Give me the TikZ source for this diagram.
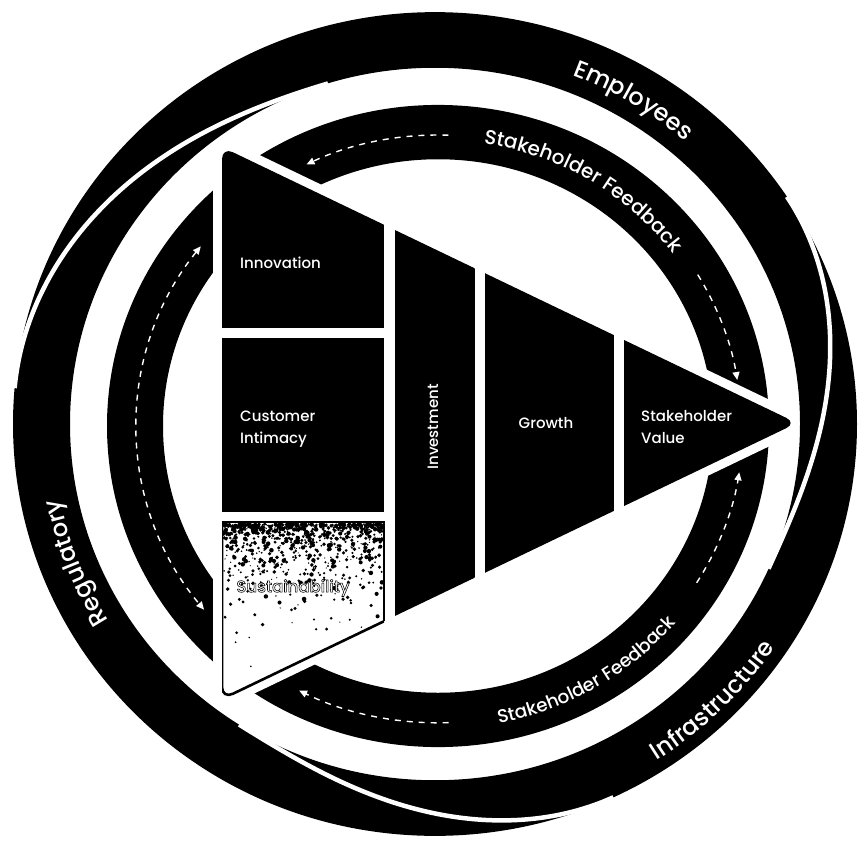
\documentclass[tikz,border=0pt]{standalone}
\usepackage{fontspec}
\setmainfont{Poppins}[UprightFont=* Medium]
\usetikzlibrary{arrows.meta,decorations.text}

\tikzset{
  boxlabel/.style={text=white, inner sep=0pt, align=left, font=\fontsize{15}{22}\selectfont},
  fbarrow/.style={white, line width=1.4pt, dash pattern=on 6pt off 6pt, -{Triangle[length=8pt,width=7pt]}},
  halo/.style={white, line width=18pt, line join=round, rounded corners=12pt},
  bandtext/.style={decorate, decoration={text along path, text align=center, text color=white, text={#1}}},
}

\begin{document}
\begin{tikzpicture}[x=1pt,y=1pt]
\useasboundingbox (0,0) rectangle (863,-841);

% outer swooshes: Employees, Infrastructure, Regulatory
\begin{scope}[shift={(435,-424)},yscale=0.976]
  \fill[even odd rule] (0,0) circle (422) (0,0) circle (365);
  \foreach \hs/\te in {175/107, 33.5/-24, -65/-122.5}
    \draw[white,line width=4.5pt] plot[domain=0:1,samples=80,smooth]
      ({\hs+(\te-(\hs))*\x}:{422-57*(3*\x*\x-2*\x*\x*\x)});
  \path[bandtext={|\fontsize{24}{24}\selectfont|Employees}] (80:383) arc (80:38:383);
  \path[bandtext={|\fontsize{24}{24}\selectfont|Regulatory}] (225:383) arc (225:178:383);
  \path[bandtext={|\fontsize{24}{24}\selectfont|Infrastructure}] (-70:410) arc (-70:-21:410);
\end{scope}

% inner ring with feedback arrows
\begin{scope}[shift={(438,-426)},yscale=0.97]
  \fill[even odd rule] (0,0) circle (331) (0,0) circle (275);
  \path[bandtext={|\fontsize{20}{20}\selectfont|Stakeholder Feedback}] (85:295) arc (85:33:295);
  \path[bandtext={|\fontsize{18.5}{18.5}\selectfont|Stakeholder Feedback}] (-88:313) arc (-88:-31:313);
  \draw[fbarrow] (88:300) arc (88:116:300);
  \draw[fbarrow] (31:303) arc (31:9:303);
  \draw[fbarrow] (-32:305) arc (-32:-9:305);
  \draw[fbarrow] (-88:306) arc (-88:-117:306);
  \draw[fbarrow,{Triangle[length=8pt,width=7pt]}-{Triangle[length=8pt,width=7pt]}] (142:301) arc (142:219:301);
\end{scope}

% triangle
\coordinate (tl) at (222,-147);
\coordinate (tip) at (797,-423);
\coordinate (bl) at (222,-699);
\draw[halo, fill=white] (tl) -- (tip) -- (bl) -- cycle;
\begin{scope}
  \clip[rounded corners=12pt] (tl) -- (tip) -- (bl) -- cycle;
  \fill (222,-140) rectangle (384,-328);
  \fill (222,-338) rectangle (384,-512);
  \fill (395,-140) rectangle (475,-710);
  \fill (485,-140) rectangle (614,-710);
  \fill (624,-140) rectangle (810,-710);
  % sustainability box, grainy
  \fill[white] (222,-522) rectangle (384,-710);
  \pgfmathsetseed{11}
  \foreach \i in {1,...,900}{
    \pgfmathsetmacro{\sx}{223+160*rnd}
    \pgfmathsetmacro{\sy}{524+170*rnd*rnd*rnd}
    \fill (\sx,-\sy) circle ({0.6+1.7*rnd});
  }
  \draw[line width=1.4pt] (222,-522) rectangle (384,-710);
\end{scope}
\begin{scope}
  \clip (222,-522) rectangle (384,-710);
  \draw[line width=2.6pt, rounded corners=12pt] (tl) -- (tip) -- (bl) -- cycle;
\end{scope}

\node[boxlabel, anchor=west] (innov) at (240,-263) {Innovation};
\node[boxlabel, anchor=west] (cust) at (240,-429) {Customer\\Intimacy};
\node[boxlabel, rotate=90] (invest) at (433,-427) {Investment};
\node[boxlabel] (growth) at (546,-423) {Growth};
\node[boxlabel, anchor=west] (value) at (641,-427) {Stakeholder\\Value};
\node[boxlabel, font=\fontsize{16.5}{22}\selectfont] (sustain) at (293,-588)
  {\special{pdf:literal direct 2 Tr 0 G 0.55 w}Sustainability\special{pdf:literal direct 0 Tr}};
\end{tikzpicture}
\end{document}
